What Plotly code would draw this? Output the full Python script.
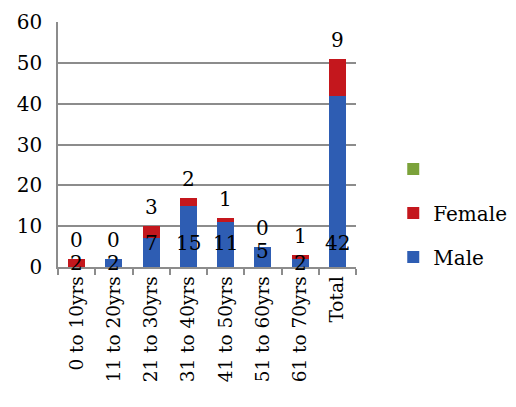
import plotly.graph_objects as go

categories = ["0 to 10yrs", "11 to 20yrs", "21 to 30yrs", "31 to 40yrs",
              "41 to 50yrs", "51 to 60yrs", "61 to 70yrs", "Total"]
male = [2, 2, 7, 15, 11, 5, 2, 42]
female = [0, 0, 3, 2, 1, 0, 1, 9]
third = [0, 0, 0, 0, 0, 0, 0, 0]
y_ticks = [0, 10, 20, 30, 40, 50, 60]

BLUE = "#2E5DB3"
RED = "#C4171D"
GREEN = "#7BA23A"
FONT = "DejaVu Serif"

male_colors = [RED] + [BLUE] * (len(male) - 1)

fig = go.Figure()
fig.add_trace(go.Bar(x=categories, y=male, name="Male", legendgroup="m",
                     showlegend=False,
                     marker=dict(color=male_colors, line=dict(width=0))))
fig.add_trace(go.Bar(x=categories, y=female, name="Female", legendgroup="f",
                     legendrank=2,
                     marker=dict(color=RED, line=dict(width=0))))
fig.add_trace(go.Bar(x=categories, y=third, name="", legendgroup="g",
                     legendrank=1,
                     marker=dict(color=GREEN, line=dict(width=0))))
# legend entry for Male (blue)
fig.add_trace(go.Bar(x=[categories[0]], y=[None], name="Male", legendgroup="m",
                     legendrank=3,
                     marker=dict(color=BLUE, line=dict(width=0))))

ann = []
for c, m, f in zip(categories, male, female):
    ann.append(dict(x=c, y=min(m - 1, 6), text=str(m), showarrow=False,
                    font=dict(family=FONT, size=20, color="black"), yanchor="middle"))
    ann.append(dict(x=c, y=m + f, text=str(f), showarrow=False, yanchor="bottom",
                    yshift=5, font=dict(family=FONT, size=20, color="black")))

fig.update_layout(
    width=516, height=407,
    margin=dict(l=50, r=144, t=14, b=148),
    barmode="stack", bargap=0.55,
    plot_bgcolor="white", paper_bgcolor="white",
    font=dict(family=FONT, size=20, color="black"),
    showlegend=True,
    legend=dict(x=1.125, y=0.22, xanchor="left", yanchor="middle",
                traceorder="grouped", tracegroupgap=15,
                font=dict(family=FONT, size=20, color="black"),
                itemwidth=30),
    annotations=ann,
)
fig.update_yaxes(range=[0, 60], tickvals=y_ticks, showgrid=True,
                 gridcolor="#8c8c8c", gridwidth=1.5, showline=True,
                 linecolor="#8c8c8c", linewidth=1.5, zeroline=False,
                 ticks="", ticklabelstandoff=10, automargin=False,
                 tickfont=dict(family=FONT, size=20, color="black"))
fig.update_xaxes(showline=True, linecolor="#8c8c8c", linewidth=1.5,
                 ticks="outside", tickson="boundaries", ticklen=6,
                 tickcolor="#8c8c8c", tickwidth=1.5, tickangle=-90,
                 automargin=False,
                 tickfont=dict(family=FONT, size=18.5, color="black"))

fig.write_html("out.html")
